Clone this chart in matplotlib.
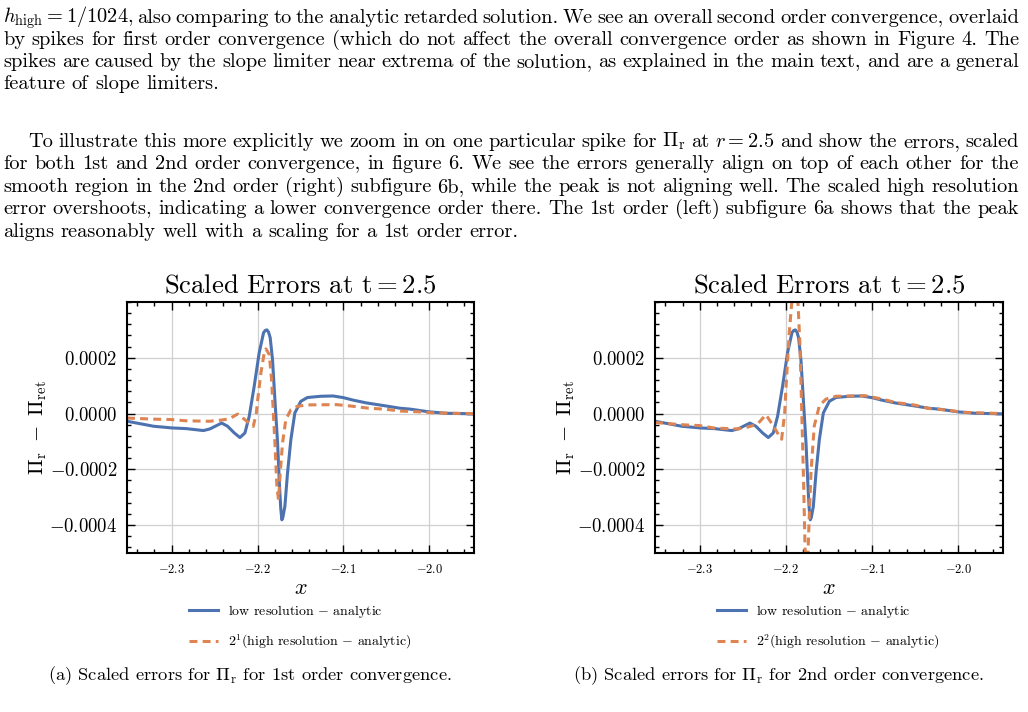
"""
论文截图复刻 —— 两幅缩放误差图 + 上方正文
"""

import matplotlib
matplotlib.use("Agg")
import matplotlib.pyplot as plt
from matplotlib.ticker import MultipleLocator

# 字体：用 matplotlib 自带的 Computer Modern，数学公式也用 cm
plt.rcParams["font.family"] = ["cmr10", "DejaVu Serif"]
plt.rcParams["mathtext.fontset"] = "cm"
plt.rcParams["axes.formatter.use_mathtext"] = True

# ---------------- 数据（误差单位 1e-5） ----------------
单位 = 1e-5

x_low = [-2.352, -2.321, -2.300, -2.283, -2.263, -2.2554, -2.2418, -2.2349,
         -2.2271, -2.2205, -2.2147, -2.2097, -2.2039, -2.1981, -2.1930, -2.1910,
         -2.1891, -2.1872, -2.1853, -2.1826, -2.1798, -2.1767, -2.1744, -2.1730,
         -2.1717, -2.1705, -2.1682, -2.1651, -2.1612, -2.1566, -2.1496, -2.1419,
         -2.1264, -2.1120, -2.1000, -2.0885, -2.0730, -2.0520, -2.0340, -2.0225,
         -2.0000, -1.9800, -1.9480]
err_low = [-2.75, -4.55, -5.15, -5.4, -6.1, -5.5, -3.4, -4.55,
           -6.95, -8.6, -6.95, -1.0, 9.8, 21.8, 29.0, 29.8,
           30.0, 29.2, 27.2, 19.4, 5.0, -10.5, -26.1, -34.0,
           -38.1, -37.2, -33.3, -21.3, -9.3, 0.2, 4.4, 5.75,
           6.2, 6.3, 5.7, 4.8, 3.8, 2.8, 1.9, 1.6,
           0.6, 0.1, -0.1]

# 高分辨率误差（未缩放），图中分别乘 2^1、2^2
x_high = [-2.352, -2.321, -2.300, -2.283, -2.256, -2.2437, -2.233, -2.2233,
          -2.2155, -2.2097, -2.2050, -2.2015, -2.2000, -2.1961, -2.1922, -2.1903,
          -2.1864, -2.1837, -2.1814, -2.1794, -2.1775, -2.1756, -2.1736, -2.1709,
          -2.1671, -2.1612, -2.1535, -2.1419, -2.1080, -2.0885, -2.0730, -2.0497,
          -2.0340, -2.0110, -1.9960, -1.9720, -1.9480]
err_high = [-0.8, -1.0, -1.08, -1.3, -1.38, -1.2, -0.95, -0.1,
            -1.0, -1.75, -2.3, 0.0, 2.25, 7.3, 10.9, 11.6,
            10.6, 6.1, -0.5, -6.45, -13.05, -15.45, -10.65, -5.25,
            -1.1, 0.7, 1.3, 1.55, 1.6, 1.3, 1.0, 0.75,
            0.45, 0.3, 0.125, 0.05, 0.0]

阶数 = [1, 2]
x刻度 = [-2.3, -2.2, -2.1, -2.0]
y刻度 = [-0.0004, -0.0002, 0.0, 0.0002]

段落1 = [
    r"$h_\mathrm{high}=1/1024$, also comparing to the analytic retarded solution. We see an overall second order convergence, overlaid",
    "by spikes for first order convergence (which do not affect the overall convergence order as shown in Figure 4. The",
    "spikes are caused by the slope limiter near extrema of the solution, as explained in the main text, and are a general",
    "feature of slope limiters.",
]
段落2 = [
    r"To illustrate this more explicitly we zoom in on one particular spike for $\Pi_\mathrm{r}$ at $r=2.5$ and show the errors, scaled",
    "for both 1st and 2nd order convergence, in figure 6. We see the errors generally align on top of each other for the",
    "smooth region in the 2nd order (right) subfigure 6b, while the peak is not aligning well. The scaled high resolution",
    "error overshoots, indicating a lower convergence order there. The 1st order (left) subfigure 6a shows that the peak",
    "aligns reasonably well with a scaling for a 1st order error.",
]
图注 = [
    r"(a) Scaled errors for $\Pi_\mathrm{r}$ for 1st order convergence.",
    r"(b) Scaled errors for $\Pi_\mathrm{r}$ for 2nd order convergence.",
]

W, H = 1028, 712
蓝 = "#4C72B0"
橙 = "#DD8452"

fig = plt.figure(figsize=(W / 100, H / 100), dpi=100)
渲染器 = fig.canvas.get_renderer()


def 像素(x, y):
    """像素坐标 -> figure 坐标"""
    return x / W, 1 - y / H


def 排版一行(行, 基线, x0, x1, 字号, 两端对齐=True):
    """逐词放置，实现两端对齐"""
    词 = 行.split(" ")
    文本 = [fig.text(*像素(0, 基线), w, fontsize=字号, va="baseline") for w in 词]
    宽 = [t.get_window_extent(渲染器).width for t in 文本]
    if 两端对齐 and len(词) > 1:
        间距 = (x1 - x0 - sum(宽)) / (len(词) - 1)
    else:
        间距 = 字号 * 100 / 72 * 0.33
    x = x0
    for t, w in zip(文本, 宽):
        t.set_x(x / W)
        x += w + 间距


def 排版段落(行列表, 首基线, 行距, 缩进=0):
    for i, 行 in enumerate(行列表):
        左 = 3 + (缩进 if i == 0 else 0)
        最后 = i == len(行列表) - 1
        排版一行(行, 首基线 + i * 行距, 左, 1019, 14.7, 两端对齐=not 最后)


排版段落(段落1, 23, 22.0)
排版段落(段落2, 147, 22.4, 缩进=25)

# ---------------- 两个子图 ----------------
轴位置 = [(127, 474), (655, 1003)]
图注中心 = [250, 778]
for k, p in enumerate(阶数):
    左, 右 = 轴位置[k]
    ax = fig.add_axes([左 / W, 1 - 553 / H, (右 - 左) / W, (553 - 302) / H])
    ax.plot(x_low, [v * 单位 for v in err_low], color=蓝, lw=2.2,
            label=r"low resolution $-$ analytic")
    ax.plot(x_high, [v * 单位 * 2 ** p for v in err_high], color=橙, lw=2.2,
            dashes=(2.6, 1.7), label=rf"$2^{p}$(high resolution $-$ analytic)")
    ax.set_xlim(-2.352, -1.948)
    ax.set_ylim(-0.0005, 0.0004)
    ax.set_xticks(x刻度)
    ax.set_yticks(y刻度)
    ax.set_yticklabels([r"$-0.0004$", r"$-0.0002$", r"$0.0000$", r"$0.0002$"])
    ax.xaxis.set_minor_locator(MultipleLocator(0.02))
    ax.yaxis.set_minor_locator(MultipleLocator(0.00004))
    ax.grid(True, which="major", color="#d0d0d0", lw=0.9)
    ax.tick_params(which="both", direction="in", top=True, right=True, width=1.0)
    ax.tick_params(which="major", length=5.5)
    ax.tick_params(which="minor", length=3)
    ax.tick_params(axis="x", labelsize=9, pad=7)
    ax.tick_params(axis="y", labelsize=13.5, pad=7)
    for s in ax.spines.values():
        s.set_linewidth(1.5)
    ax.set_title(r"Scaled Errors at $\mathrm{t=2.5}$", fontsize=19.2, pad=7)
    ax.set_xlabel(r"$x$", fontsize=16, labelpad=2)
    ax.set_ylabel(r"$\Pi_\mathrm{r}\ -\ \Pi_\mathrm{ret}$", fontsize=15, labelpad=0)
    ax.legend(loc="upper left", bbox_to_anchor=像素(左 + 62, 603),
              bbox_transform=fig.transFigure, frameon=False, borderpad=0,
              borderaxespad=0, handlelength=2.1, handletextpad=0.72,
              labelspacing=0.9, fontsize=10)
    fig.text(*像素(图注中心[k], 680), 图注[k], fontsize=13.3, ha="center", va="baseline")

fig.savefig("out.png", dpi=100)
